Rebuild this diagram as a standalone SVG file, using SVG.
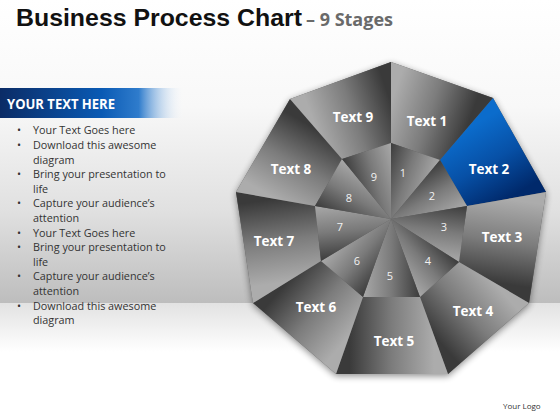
<svg xmlns="http://www.w3.org/2000/svg" xmlns:xlink="http://www.w3.org/1999/xlink" width="560" height="420" viewBox="0 0 560 420">
<defs>
<style>
.title{font-family:"Liberation Sans",Arial,sans-serif;font-weight:bold;fill:#111}
.sub{font-family:"Open Sans","Liberation Sans",sans-serif;font-weight:bold;fill:#6a6a6a;font-size:17.5px}
.hdr{font-family:"Open Sans","Liberation Sans",sans-serif;font-weight:bold;fill:#fff;font-size:13.5px}
.bl{font-family:"Open Sans","Liberation Sans",sans-serif;fill:#333;font-size:10.8px}
.lbl{font-family:"Open Sans","Liberation Sans",sans-serif;font-weight:bold;fill:#fff;font-size:13.5px;text-anchor:middle}
.num{font-family:"Open Sans","Liberation Sans",sans-serif;fill:#f2f2f2;font-size:11px;text-anchor:middle}
.logo{font-family:"Open Sans","Liberation Sans",sans-serif;fill:#333;font-size:8px}
</style>
<linearGradient id="bgTop" x1="0" y1="0" x2="0" y2="303" gradientUnits="userSpaceOnUse">
<stop offset="0" stop-color="#ffffff"/>
<stop offset="0.35" stop-color="#f8f8f8"/>
<stop offset="0.7" stop-color="#e0e0e0"/>
<stop offset="1" stop-color="#bdbdbd"/>
</linearGradient>
<linearGradient id="bgBot" x1="0" y1="303" x2="0" y2="352" gradientUnits="userSpaceOnUse">
<stop offset="0" stop-color="#e2e2e2"/>
<stop offset="1" stop-color="#ffffff"/>
</linearGradient>
<linearGradient id="bar" x1="0" y1="0" x2="1" y2="0">
<stop offset="0" stop-color="#0b2c66"/>
<stop offset="0.55" stop-color="#0a5ab4"/>
<stop offset="0.75" stop-color="#2f7ccc"/>
<stop offset="1" stop-color="#ffffff" stop-opacity="0"/>
</linearGradient>
<linearGradient id="go" gradientUnits="userSpaceOnUse">
<stop offset="0" stop-color="#acacac"/>
<stop offset="0.5" stop-color="#7c7c7c"/>
<stop offset="1" stop-color="#3a3a3a"/>
</linearGradient>
<linearGradient id="gb" gradientUnits="userSpaceOnUse">
<stop offset="0" stop-color="#0b6ccc"/>
<stop offset="0.5" stop-color="#0750a6"/>
<stop offset="1" stop-color="#00296b"/>
</linearGradient>
<linearGradient id="gi" gradientUnits="userSpaceOnUse">
<stop offset="0" stop-color="#3c3c3c"/>
<stop offset="0.5" stop-color="#7a7a7a"/>
<stop offset="1" stop-color="#a8a8a8"/>
</linearGradient>
<linearGradient id="o1" href="#go" x1="391" y1="102.5" x2="466.5" y2="129"/>
<linearGradient id="o2" href="#gb" x1="466.5" y1="129" x2="506.5" y2="199"/>
<linearGradient id="o3" href="#go" x1="506.5" y1="199" x2="494" y2="282.5"/>
<linearGradient id="o4" href="#go" x1="494" y1="282.5" x2="434" y2="335.5"/>
<linearGradient id="o5" href="#go" x1="434" y1="335.5" x2="349.5" y2="335.5"/>
<linearGradient id="o6" href="#go" x1="349.5" y1="335.5" x2="287" y2="282"/>
<linearGradient id="o7" href="#go" x1="287" y1="282" x2="275.5" y2="199"/>
<linearGradient id="o8" href="#go" x1="275.5" y1="199" x2="316" y2="129"/>
<linearGradient id="o9" href="#go" x1="316" y1="129" x2="391" y2="102.5"/>
<linearGradient id="i1" href="#gi" x1="391" y1="143" x2="440" y2="160"/>
<linearGradient id="i2" href="#gi" x1="440" y1="160" x2="467" y2="206"/>
<linearGradient id="i3" href="#gi" x1="467" y1="206" x2="459" y2="262"/>
<linearGradient id="i4" href="#gi" x1="459" y1="262" x2="420" y2="297"/>
<linearGradient id="i5" href="#gi" x1="420" y1="297" x2="363" y2="297"/>
<linearGradient id="i6" href="#gi" x1="363" y1="297" x2="321" y2="261"/>
<linearGradient id="i7" href="#gi" x1="321" y1="261" x2="315" y2="206"/>
<linearGradient id="i8" href="#gi" x1="315" y1="206" x2="342" y2="159"/>
<linearGradient id="i9" href="#gi" x1="342" y1="159" x2="391" y2="143"/>
<filter id="sh" x="-20%" y="-20%" width="140%" height="140%">
<feGaussianBlur stdDeviation="3.5"/>
</filter>
</defs>

<g id="background">
<rect x="0" y="0" width="560" height="303" fill="url(#bgTop)"/>
<rect x="0" y="303" width="560" height="117" fill="url(#bgBot)"/>
</g>

<g id="title">
<text class="title" x="16" y="26" font-size="24" textLength="286" lengthAdjust="spacingAndGlyphs">Business Process Chart</text>
<text class="sub" x="306" y="26" textLength="87" lengthAdjust="spacingAndGlyphs">– 9 Stages</text>
</g>

<g id="panel">
<rect x="0" y="88" width="185" height="30" fill="url(#bar)"/>
<text class="hdr" x="7" y="108.5" textLength="108" lengthAdjust="spacingAndGlyphs">YOUR TEXT HERE</text>
<g class="bl">
<text x="17" y="134.3">•</text><text x="33" y="134.3">Your Text Goes here</text>
<text x="17" y="148.9">•</text><text x="33" y="148.9">Download this awesome</text>
<text x="33" y="163.5">diagram</text>
<text x="17" y="178.1">•</text><text x="33" y="178.1">Bring your presentation to</text>
<text x="33" y="192.7">life</text>
<text x="17" y="207.3">•</text><text x="33" y="207.3">Capture your audience’s</text>
<text x="33" y="221.9">attention</text>
<text x="17" y="236.5">•</text><text x="33" y="236.5">Your Text Goes here</text>
<text x="17" y="251.1">•</text><text x="33" y="251.1">Bring your presentation to</text>
<text x="33" y="265.7">life</text>
<text x="17" y="280.3">•</text><text x="33" y="280.3">Capture your audience’s</text>
<text x="33" y="294.9">attention</text>
<text x="17" y="309.5">•</text><text x="33" y="309.5">Download this awesome</text>
<text x="33" y="324.1">diagram</text>
</g>
</g>

<g id="chart-shadow">
<polygon points="391,62 493,98 546,192 529,303 448,374 336,374 253,303 236,192 290,99" fill="#000" opacity="0.45" transform="translate(0,2)" filter="url(#sh)"/>
<polygon points="391,62 493,98 546,192 529,303 448,374 336,374 253,303 236,192 290,99" fill="#5a5a5a"/>
</g>

<g id="connectors"></g>

<g id="stage1"><polygon points="391,62 493,98 440,160 391,143" fill="url(#o1)"/><text class="lbl" x="427" y="125.5">Text 1</text></g>
<g id="stage2"><polygon points="493,98 546,192 467,206 440,160" fill="url(#o2)"/><text class="lbl" x="489" y="173.5">Text 2</text></g>
<g id="stage3"><polygon points="546,192 529,303 459,262 467,206" fill="url(#o3)"/><text class="lbl" x="502" y="241.5">Text 3</text></g>
<g id="stage4"><polygon points="529,303 448,374 420,297 459,262" fill="url(#o4)"/><text class="lbl" x="473" y="315.5">Text 4</text></g>
<g id="stage5"><polygon points="448,374 336,374 363,297 420,297" fill="url(#o5)"/><text class="lbl" x="394" y="345.5">Text 5</text></g>
<g id="stage6"><polygon points="336,374 253,303 321,261 363,297" fill="url(#o6)"/><text class="lbl" x="316" y="311.5">Text 6</text></g>
<g id="stage7"><polygon points="253,303 236,192 315,206 321,261" fill="url(#o7)"/><text class="lbl" x="274" y="245.5">Text 7</text></g>
<g id="stage8"><polygon points="236,192 290,99 342,159 315,206" fill="url(#o8)"/><text class="lbl" x="291" y="173.5">Text 8</text></g>
<g id="stage9"><polygon points="290,99 391,62 391,143 342,159" fill="url(#o9)"/><text class="lbl" x="353" y="121.5">Text 9</text></g>

<g id="step1"><polygon points="391,219 391,143 440,160" fill="url(#i1)"/><text class="num" x="403" y="177">1</text></g>
<g id="step2"><polygon points="391,219 440,160 467,206" fill="url(#i2)"/><text class="num" x="432" y="200">2</text></g>
<g id="step3"><polygon points="391,219 467,206 459,262" fill="url(#i3)"/><text class="num" x="444" y="231">3</text></g>
<g id="step4"><polygon points="391,219 459,262 420,297" fill="url(#i4)"/><text class="num" x="428" y="265">4</text></g>
<g id="step5"><polygon points="391,219 420,297 363,297" fill="url(#i5)"/><text class="num" x="390" y="280">5</text></g>
<g id="step6"><polygon points="391,219 363,297 321,261" fill="url(#i6)"/><text class="num" x="357" y="265">6</text></g>
<g id="step7"><polygon points="391,219 321,261 315,206" fill="url(#i7)"/><text class="num" x="340" y="231">7</text></g>
<g id="step8"><polygon points="391,219 315,206 342,159" fill="url(#i8)"/><text class="num" x="349" y="202">8</text></g>
<g id="step9"><polygon points="391,219 342,159 391,143" fill="url(#i9)"/><text class="num" x="374" y="181">9</text></g>

<g id="logo"><text class="logo" x="503" y="408.5">Your Logo</text></g>
</svg>
